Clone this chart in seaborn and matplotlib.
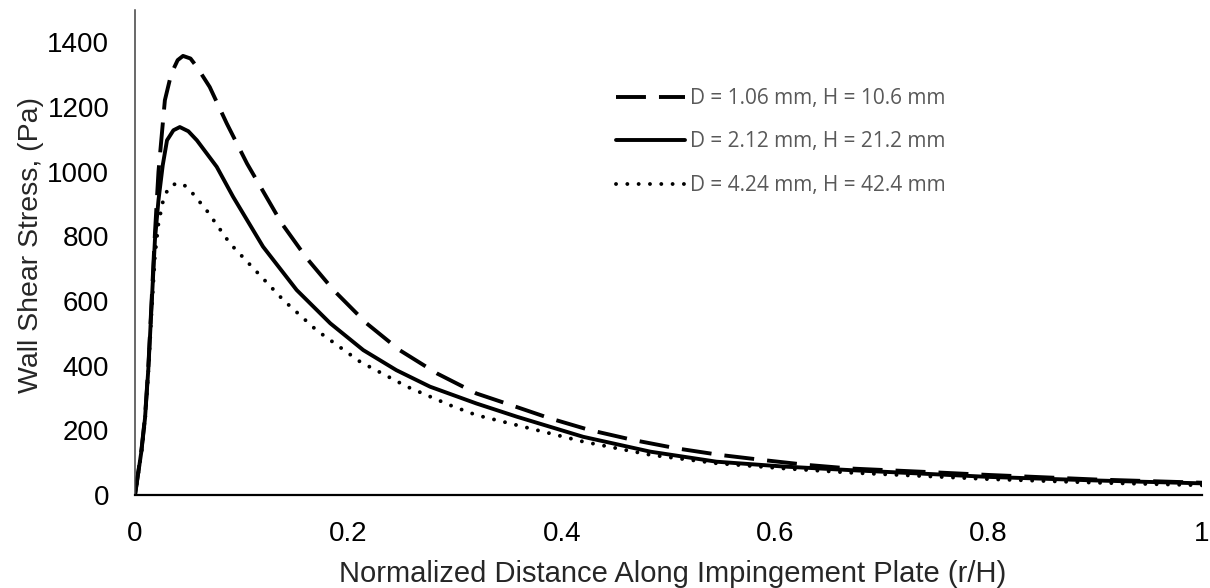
import matplotlib
matplotlib.use("Agg")
import matplotlib.pyplot as plt
import seaborn as sns
import pandas as pd

# ---- data ----
labels = ["D = 1.06 mm, H = 10.6 mm", "D = 2.12 mm, H = 21.2 mm", "D = 4.24 mm, H = 42.4 mm"]

x_d106 = [0, 0.006, 0.0094, 0.0125, 0.0156, 0.0187, 0.022, 0.028, 0.034, 0.040, 0.045,
          0.052, 0.058, 0.070, 0.086, 0.105, 0.1375, 0.161, 0.186, 0.217, 0.248, 0.283,
          0.320, 0.348, 0.389, 0.426, 0.467, 0.508, 0.548, 0.589, 0.630, 0.670, 0.75,
          0.8, 0.9, 1.0]
y_d106 = [0, 139, 242, 397, 603, 810, 1000, 1221, 1303, 1345, 1358,
          1350, 1324, 1262, 1149, 1025, 840, 732, 634, 531, 448, 376,
          314, 283, 237, 201, 170, 144, 124, 108, 93, 82, 70,
          62, 48, 38]

x_d212 = [0, 0.006, 0.0094, 0.0125, 0.0156, 0.0187, 0.022, 0.026, 0.030, 0.036, 0.042,
          0.050, 0.058, 0.0766, 0.092, 0.120, 0.1515, 0.183, 0.214, 0.245, 0.2765,
          0.320, 0.358, 0.420, 0.483, 0.545, 0.608, 0.670, 0.8, 0.9, 1.0]
y_d212 = [0, 135, 238, 390, 590, 790, 912, 1020, 1097, 1128, 1138,
          1125, 1097, 1015, 922, 768, 634, 531, 448, 386, 335,
          283, 242, 180, 134, 103, 88, 77, 56, 45, 36]

x_d424 = [0, 0.006, 0.0094, 0.0125, 0.0156, 0.0187, 0.022, 0.026, 0.030, 0.034, 0.040,
          0.045, 0.053, 0.067, 0.089, 0.111, 0.139, 0.170, 0.211, 0.255, 0.295,
          0.320, 0.358, 0.420, 0.483, 0.545, 0.608, 0.670, 0.8, 0.9, 1.0]
y_d424 = [0, 130, 230, 380, 570, 740, 840, 905, 940, 958, 964,
          962, 937, 881, 778, 701, 603, 510, 412, 335, 278,
          247, 216, 165, 124, 98, 82, 69, 49, 38, 30]

x_ticks = [0, 0.2, 0.4, 0.6, 0.8, 1]
x_ticklabels = ["0", "0.2", "0.4", "0.6", "0.8", "1"]
y_ticks = [0, 200, 400, 600, 800, 1000, 1200, 1400]

# ---- plotting ----
sns.set_style("white")
plt.rcParams["font.family"] = ["Liberation Sans", "DejaVu Sans"]

fig = plt.figure(figsize=(12.1, 5.88), dpi=100)
ax = fig.add_axes([135/1210, (588-495)/588, (1202-135)/1210, (495-10)/588])

lw = 2.8
series = [(x_d106, y_d106, (7.7, 3.35), "butt"),
          (x_d212, y_d212, None, "butt"),
          (x_d424, y_d424, (0.01, 2.9), "round")]
for (xs, ys, dash, cap), lab in zip(series, labels):
    df = pd.DataFrame({"x": xs, "y": ys})
    sns.lineplot(data=df, x="x", y="y", ax=ax, color="black", lw=lw,
                 estimator=None, sort=False, label=lab)
    l = ax.lines[-1]
    if dash is not None:
        l.set_dashes(dash)
        l.set_dash_capstyle(cap)

ax.set_xlim(0, 1)
ax.set_ylim(0, 1500)
ax.set_xticks(x_ticks)
ax.set_xticklabels(x_ticklabels)
ax.set_yticks(y_ticks)
ax.tick_params(axis="both", length=0, labelsize=20, colors="black")
ax.tick_params(axis="y", pad=18.5)
ax.tick_params(axis="x", pad=18.5)

for s in ["top", "right"]:
    ax.spines[s].set_visible(False)
ax.spines["left"].set_color("#404040")
ax.spines["left"].set_linewidth(1.1)
ax.spines["bottom"].set_color("black")
ax.spines["bottom"].set_linewidth(1.6)

ax.set_xlabel("Normalized Distance Along Impingement Plate (r/H)", fontsize=21)
ax.set_ylabel("Wall Shear Stress, (Pa)", fontsize=20.5)
ax.xaxis.set_label_coords(0.504, -0.133)
ax.yaxis.set_label_coords(-0.085, 0.515)

leg = ax.legend(loc="upper left", bbox_to_anchor=(0.4335, 0.878), frameon=False,
                handlelength=3.3, handletextpad=0.25, labelspacing=1.08,
                prop={"family": "Open Sans", "size": 15})
for t in leg.get_texts():
    t.set_color("#595959")

fig.savefig("out.png", dpi=100)
